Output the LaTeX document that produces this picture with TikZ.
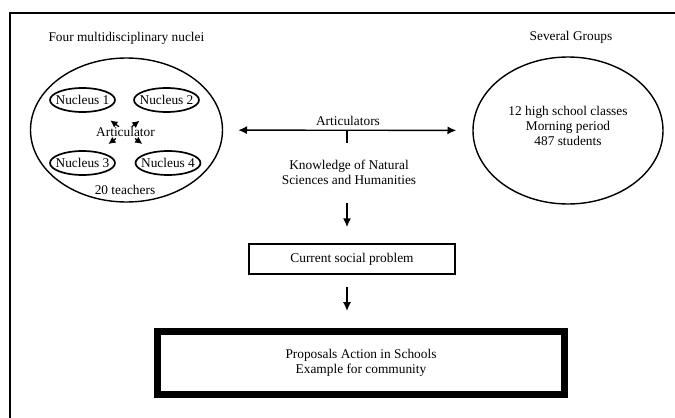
\documentclass[tikz,border=0pt]{standalone}
\usepackage{fontspec}
\setmainfont{Liberation Serif}
\usepackage{tikz}
\usetikzlibrary{shapes.geometric, arrows.meta, positioning, calc}

\begin{document}
\begin{tikzpicture}[
    font=\fontsize{9.5}{10.5}\selectfont,
    frame/.style={line width=1.2pt},
    group/.style={ellipse, draw, line width=1pt, inner sep=0pt,
                  minimum width=#1, minimum height=3.6cm, align=center},
    nucleus/.style={ellipse, draw, line width=1.2pt, inner sep=0pt,
                    minimum width=1.625cm, minimum height=0.6cm},
    std/.style={rectangle, draw, line width=#1, inner sep=0pt, align=center},
    arr/.style={-{Latex[length=2.2mm, width=2mm]}, line width=1pt},
    small/.style={-{Latex[length=1.8mm, width=1.8mm]}, line width=0.9pt,
                  shorten <=#1}
]
    \useasboundingbox (0,0) rectangle (16.875,-10.45);
    \draw[frame] (0.25,-10.45) -- (0.25,-0.325) -- (16.875,-0.325);

    % Teachers
    \node (nucleititle) at (3.16,-0.95) {Four multidisciplinary nuclei};
    \node[group=4.8cm] (teachers) at (3.1625,-3.25) {};
    \node[nucleus, label=center:{Nucleus 1}] (n1) at (2.0625,-2.5) {};
    \node[nucleus, label=center:{Nucleus 2}] (n2) at (4.1625,-2.5) {};
    \node[nucleus, label=center:{Nucleus 3}] (n3) at (2.0625,-4.075) {};
    \node[nucleus, label=center:{Nucleus 4}] (n4) at (4.2,-4.075) {};
    \node[inner sep=0pt] (artic) at (3.1375,-3.2875) {Articulator};
    \node (tcount) at (3.125,-4.75) {20 teachers};

    \draw[small=0.2cm, shorten >=0.38cm] (artic.center) -- (n1);
    \draw[small=0.2cm, shorten >=0.38cm] (artic.center) -- (n2);
    \draw[small=0.3cm, shorten >=0.32cm] (artic.center) -- (n3);
    \draw[small=0.3cm, shorten >=0.32cm] (artic.center) -- (n4);

    % Students
    \node (groupstitle) at (14.275,-0.925) {Several Groups};
    \node[group=4.75cm, minimum height=3.675cm] (students) at (14.2,-3.2625) {};
    \node[align=center] (studtext) at (14.2,-3.15)
        {12 high school classes\\Morning period\\487 students};

    % Articulators
    \draw[arr, {Latex[length=2.2mm, width=2mm]}-{Latex[length=2.2mm, width=2mm]},
          shorten <=0.375cm, shorten >=0.4cm] (teachers) -- (students);
    \node (artlabel) at (8.7,-3.025) {Articulators};
    \coordinate (hub) at (8.675,-3.25);
    \coordinate (tick) at (8.675,-3.575);
    \draw[line width=1pt] (hub) -- (tick);
    \node[align=center] (knowledge) at (8.725,-4.3125)
        {Knowledge of Natural\\Sciences and Humanities};

    % Flow
    \node[std=1.2pt, minimum width=5.15cm, minimum height=0.75cm] (problem)
        at (8.8,-6.475) {Current social problem};
    \node[std=5pt, minimum width=10.175cm, minimum height=1.575cm] (proposals)
        at (9.025,-9.075) {Proposals Action in Schools\\Example for community};

    \draw[arr, shorten <=0.33cm, shorten >=0.4cm]
        (knowledge.south -| tick) -- (problem.north -| tick);
    \draw[arr, shorten <=0.3cm, shorten >=0.425cm]
        (problem.south -| tick) -- (proposals.north -| tick);
\end{tikzpicture}
\end{document}
